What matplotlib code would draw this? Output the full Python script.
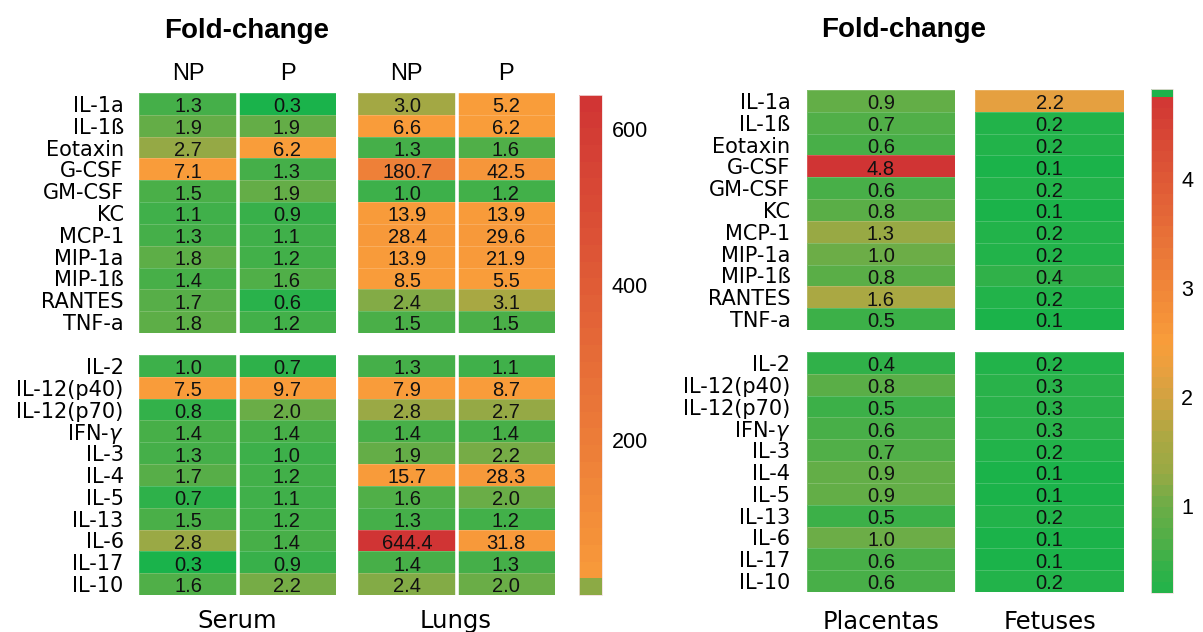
import numpy as np
import matplotlib
matplotlib.use("Agg")
import matplotlib.pyplot as plt
from matplotlib.colors import LinearSegmentedColormap, ListedColormap, FuncNorm, Normalize
from matplotlib.cm import ScalarMappable

plt.rcParams['font.family'] = ['Liberation Sans', 'DejaVu Sans']
LABEL_FONT = ['DejaVu Sans']

# ---- cytokine names -------------------------------------------------------
chemokines = ["IL-1a", "IL-1ß", "Eotaxin", "G-CSF", "GM-CSF", "KC", "MCP-1",
              "MIP-1a", "MIP-1ß", "RANTES", "TNF-a"]
interleukins = ["IL-2", "IL-12(p40)", "IL-12(p70)", r"IFN-$\gamma$", "IL-3", "IL-4",
                "IL-5", "IL-13", "IL-6", "IL-17", "IL-10"]

# ---- fold-change, serum and lungs (NP / P) --------------------------------
serum_np_top = [1.3, 1.9, 2.7, 7.1, 1.5, 1.1, 1.3, 1.8, 1.4, 1.7, 1.8]
serum_p_top = [0.3, 1.9, 6.2, 1.3, 1.9, 0.9, 1.1, 1.2, 1.6, 0.6, 1.2]
lungs_np_top = [3.0, 6.6, 1.3, 180.7, 1.0, 13.9, 28.4, 13.9, 8.5, 2.4, 1.5]
lungs_p_top = [5.2, 6.2, 1.6, 42.5, 1.2, 13.9, 29.6, 21.9, 5.5, 3.1, 1.5]

serum_np_bottom = [1.0, 7.5, 0.8, 1.4, 1.3, 1.7, 0.7, 1.5, 2.8, 0.3, 1.6]
serum_p_bottom = [0.7, 9.7, 2.0, 1.4, 1.0, 1.2, 1.1, 1.2, 1.4, 0.9, 2.2]
lungs_np_bottom = [1.3, 7.9, 2.8, 1.4, 1.9, 15.7, 1.6, 1.3, 644.4, 1.4, 2.4]
lungs_p_bottom = [1.1, 8.7, 2.7, 1.4, 2.2, 28.3, 2.0, 1.2, 31.8, 1.3, 2.0]

# ---- fold-change, placentas and fetuses -----------------------------------
placentas_top = [0.9, 0.7, 0.6, 4.8, 0.6, 0.8, 1.3, 1.0, 0.8, 1.6, 0.5]
fetuses_top = [2.2, 0.2, 0.2, 0.1, 0.2, 0.1, 0.2, 0.2, 0.4, 0.2, 0.1]
placentas_bottom = [0.4, 0.8, 0.5, 0.6, 0.7, 0.9, 0.9, 0.5, 1.0, 0.6, 0.6]
fetuses_bottom = [0.2, 0.3, 0.3, 0.3, 0.2, 0.1, 0.1, 0.2, 0.1, 0.1, 0.2]

left_ticks = [200, 400, 600]
right_ticks = [1, 2, 3, 4]

# ---- colour scales: anchor values -> colours ------------------------------
left_anchor_values = [0.3, 1.0, 1.5, 2.0, 2.7, 3.1, 5.0, 644.4]
left_anchor_colors = ["#1ab34b", "#3db04a", "#4aaf48", "#6aad47", "#95a945",
                      "#a8a843", "#f99d3a", "#d03434"]
right_anchor_values = [0.1, 0.2, 0.4, 0.6, 0.8, 1.0, 1.3, 1.6, 2.2, 2.5, 4.8]
right_anchor_colors = ["#1bb34a", "#22b34a", "#30b149", "#48af48", "#5aae47",
                       "#6cad47", "#98a944", "#aaa843", "#e5a040", "#f99d3a", "#d03434"]


def anchored_scale(values, colors):
    pos = np.linspace(0, 1, len(values))
    cmap = LinearSegmentedColormap.from_list("fold", list(zip(pos, colors)), N=1024)

    def fwd(v):
        return np.interp(np.asarray(v, dtype=float), values, pos)

    def inv(p):
        return np.interp(np.asarray(p, dtype=float), pos, values)

    norm = FuncNorm((fwd, inv), vmin=values[0], vmax=values[-1])
    return cmap, norm


left_cmap, left_norm = anchored_scale(left_anchor_values, left_anchor_colors)
right_cmap, right_norm = anchored_scale(right_anchor_values, right_anchor_colors)

W, H = 1203, 632
fig = plt.figure(figsize=(W / 100, H / 100), dpi=100)


def px_axes(x0, x1, y0, y1):
    return fig.add_axes([x0 / W, 1 - y1 / H, (x1 - x0) / W, (y1 - y0) / H])


def px_text(x, y, s, **kw):
    fig.text(x / W, 1 - y / H, s, **kw)


def draw_block(ax, columns, cmap, norm, labels=None, label_pad=11):
    data = np.column_stack(columns)
    n_rows, n_cols = data.shape
    ax.pcolormesh(np.arange(n_cols + 1), np.arange(n_rows + 1), data,
                  cmap=cmap, norm=norm, edgecolors=(1, 1, 1, 0.18), linewidth=0.7)
    ax.set_xlim(0, n_cols)
    ax.set_ylim(n_rows, 0)
    for r in range(n_rows):
        for c in range(n_cols):
            ax.text(c + 0.5, r + 0.54, f"{data[r, c]:.1f}", ha="center",
                    va="center_baseline", fontsize=14.5, color="#111111")
    for c in range(1, n_cols):
        ax.axvline(c, color="white", lw=2.6)
    ax.set_xticks([])
    if labels is not None:
        ax.set_yticks(np.arange(n_rows) + 0.5, labels)
        ax.tick_params(axis="y", length=0, labelsize=15, pad=label_pad)
        for t in ax.get_yticklabels():
            t.set_family(LABEL_FONT)
    else:
        ax.set_yticks([])
    for s in ax.spines.values():
        s.set_visible(False)


def draw_colorbar(cax, cmap, norm, vmin, vmax, n_bands, ticks, pad, over=None, extendfrac=0.0):
    edges = np.linspace(vmin, vmax, n_bands + 1)
    samples = np.sqrt(edges[:-1] * edges[1:])
    band_cmap = ListedColormap(cmap(norm(samples)))
    extend = "neither"
    if over is not None:
        band_cmap.set_over(over)
        extend = "max"
    sm = ScalarMappable(norm=Normalize(vmin, vmax), cmap=band_cmap)
    cb = fig.colorbar(sm, cax=cax, ticks=ticks, extend=extend,
                      extendrect=True, extendfrac=extendfrac)
    cb.outline.set_edgecolor("#f2dede")
    cb.outline.set_linewidth(0.6)
    cb.ax.tick_params(length=0, labelsize=15.5, pad=pad)
    return cb


# ---- left panel: serum and lungs ------------------------------------------
top_y, bot_y = (93, 333), (355, 595)
draw_block(px_axes(139, 336, *top_y), [serum_np_top, serum_p_top], left_cmap, left_norm, chemokines)
draw_block(px_axes(139, 336, *bot_y), [serum_np_bottom, serum_p_bottom], left_cmap, left_norm, interleukins)
draw_block(px_axes(358, 555, *top_y), [lungs_np_top, lungs_p_top], left_cmap, left_norm)
draw_block(px_axes(358, 555, *bot_y), [lungs_np_bottom, lungs_p_bottom], left_cmap, left_norm)

draw_colorbar(px_axes(579, 602, 95, 595), left_cmap, left_norm,
              0.3, 644.4, 30, left_ticks, pad=7)

px_text(247, 38, "Fold-change", ha="center", va="baseline", fontsize=20, fontweight="bold")
for x, s in [(188, "NP"), (288, "P"), (406, "NP"), (506, "P")]:
    px_text(x, 80, s, ha="center", va="baseline", fontsize=17)
px_text(237, 628, "Serum", ha="center", va="baseline", fontsize=17.5, family=LABEL_FONT)
px_text(456, 628, "Lungs", ha="center", va="baseline", fontsize=17.5, family=LABEL_FONT)

# ---- right panel: placentas and fetuses -----------------------------------
rtop_y, rbot_y = (90, 330), (352, 592)
draw_block(px_axes(807, 955, *rtop_y), [placentas_top], right_cmap, right_norm, chemokines, label_pad=12)
draw_block(px_axes(807, 955, *rbot_y), [placentas_bottom], right_cmap, right_norm, interleukins, label_pad=12)
draw_block(px_axes(975, 1124, *rtop_y), [fetuses_top], right_cmap, right_norm)
draw_block(px_axes(975, 1124, *rbot_y), [fetuses_bottom], right_cmap, right_norm)

draw_colorbar(px_axes(1151, 1173, 89, 593), right_cmap, right_norm,
              0.2, 4.75, 46, right_ticks, pad=6, over="#1db34a", extendfrac=8 / 496)

px_text(904, 37, "Fold-change", ha="center", va="baseline", fontsize=20, fontweight="bold")
px_text(881, 629, "Placentas", ha="center", va="baseline", fontsize=17.5, family=LABEL_FONT)
px_text(1050, 629, "Fetuses", ha="center", va="baseline", fontsize=17.5, family=LABEL_FONT)

fig.savefig("out.png", dpi=100, facecolor="white")
